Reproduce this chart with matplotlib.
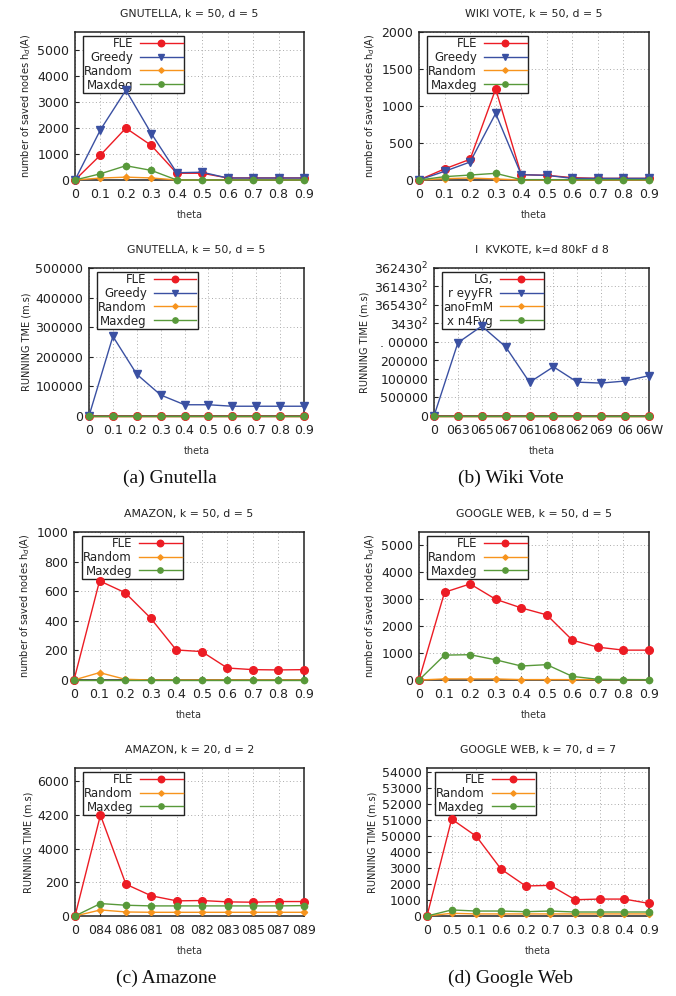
import numpy as np
import matplotlib
matplotlib.use("Agg")
import matplotlib.pyplot as plt

# theta values shared by every panel
theta = [0, 0.1, 0.2, 0.3, 0.4, 0.5, 0.6, 0.7, 0.8, 0.9]
theta_labels = ['0', '0.1', '0.2', '0.3', '0.4', '0.5', '0.6', '0.7', '0.8', '0.9']

# (a) Gnutella - saved nodes
gnu_fle = [0, 960, 2000, 1330, 260, 260, 80, 80, 80, 80]
gnu_greedy = [0, 1935, 3460, 1790, 280, 300, 75, 75, 75, 75]
gnu_random = [0, 75, 110, 80, 0, 0, 0, 0, 0, 0]
gnu_maxdeg = [0, 240, 550, 370, 0, 0, 0, 0, 0, 0]

# (a) Gnutella - running time
gnu_t_fle = [0] * 10
gnu_t_greedy = [0, 269000, 141000, 71000, 38000, 38000, 33000, 33000, 33000, 33000]
gnu_t_random = [0] * 10
gnu_t_maxdeg = [0] * 10

# (b) Wiki Vote - saved nodes
wiki_fle = [0, 150, 280, 1230, 72, 63, 32, 22, 22, 22]
wiki_greedy = [0, 117, 243, 900, 72, 63, 22, 22, 22, 22]
wiki_random = [0, 18, 27, 14, 0, 0, 0, 0, 0, 0]
wiki_maxdeg = [0, 45, 67, 90, 5, 5, 5, 5, 5, 5]

# (b) Wiki Vote - running time (labels as printed in the source)
wiki_t_fle = [0] * 10
wiki_t_greedy = [0, 198000, 243000, 187000, 91000, 133000, 91500, 89000, 94500, 109000]
wiki_t_random = [0] * 10
wiki_t_maxdeg = [0] * 10
wiki_t_yticks = [0, 50000, 100000, 150000, 200000, 250000, 300000, 350000, 400000]
wiki_t_ylabels = ['0', '500000', '100000', '200000', '. 00000', '3430$^2$',
                  '365430$^2$', '361430$^2$', '362430$^2$']
wiki_t_xlabels = ['0', '063', '065', '067', '061', '068', '062', '069', '06', '06W']
wiki_t_legend = ['LG,', 'r eyyFR', 'anoFmM', 'x n4Fyg']

# (c) Amazon - saved nodes
ama_fle = [0, 670, 590, 418, 203, 192, 81, 70, 68, 70]
ama_random = [0, 50, 5, 0, 0, 0, 0, 0, 0, 0]
ama_maxdeg = [0] * 10

# (c) Amazon - running time
ama_t_fle = [0, 3000, 945, 600, 450, 460, 420, 410, 430, 430]
ama_t_random = [0, 180, 120, 110, 110, 110, 110, 110, 110, 110]
ama_t_maxdeg = [0, 370, 320, 300, 300, 300, 300, 300, 300, 310]
ama_t_yticks = [0, 1000, 2000, 3000, 4000]
ama_t_ylabels = ['0', '200', '4000', '4200', '6000']
ama_t_xlabels = ['0', '084', '086', '081', '08', '082', '083', '085', '087', '089']

# (d) Google Web - saved nodes
goo_fle = [0, 3260, 3570, 3000, 2680, 2420, 1480, 1220, 1110, 1110]
goo_random = [0, 40, 40, 40, 15, 15, 15, 15, 15, 15]
goo_maxdeg = [0, 925, 940, 750, 520, 570, 135, 25, 15, 10]

# (d) Google Web - running time
goo_t_fle = [0, 6070, 4990, 2940, 1880, 1920, 1020, 1060, 1060, 790]
goo_t_random = [0, 170, 130, 130, 130, 130, 130, 130, 130, 130]
goo_t_maxdeg = [0, 380, 310, 310, 270, 310, 250, 250, 250, 250]
goo_t_yticks = [0, 1000, 2000, 3000, 4000, 5000, 6000, 7000, 8000, 9000]
goo_t_ylabels = ['0', '1000', '2000', '3000', '4000', '50000', '51000',
                 '52000', '53000', '54000']
goo_t_xlabels = ['0', '0.5', '0.1', '0.6', '0.2', '0.7', '0.3', '0.8', '0.4', '0.9']

STY = {
    'FLE': dict(color='#ec1c24', marker='o', ms=5.5),
    'Greedy': dict(color='#3a50a2', marker='v', ms=5.5),
    'Random': dict(color='#f7941d', marker='D', ms=3.2),
    'Maxdeg': dict(color='#58993a', marker='o', ms=4.5),
}

W, H = 676, 996
fig = plt.figure(figsize=(W / 100, H / 100), dpi=100)


def make_ax(l, t, r, b):
    return fig.add_axes([l / W, 1 - b / H, (r - l) / W, (b - t) / H])


def panel(ax, series, title, ylabel, ylim, yticks=None, ylabels=None,
          xlabels=theta_labels, legend_labels=None):
    for name, vals in series:
        s = STY[name]
        ax.plot(theta, vals, color=s['color'], marker=s['marker'], ms=s['ms'],
                lw=1.0, clip_on=False, zorder=6, label=name)
    ax.set_xlim(0, 0.9)
    ax.set_ylim(*ylim)
    ax.set_xticks(theta)
    ax.set_xticklabels(xlabels)
    if yticks is not None:
        ax.set_yticks(yticks)
        if ylabels is not None:
            ax.set_yticklabels(ylabels)
    ax.grid(True, linestyle=(0, (1, 2.5)), color='#aaaaaa', lw=0.7)
    ax.tick_params(direction='in', labelsize=9, length=3, width=0.8,
                   colors='#222222', pad=4)
    ax.tick_params(axis='x', pad=6)
    for sp in ax.spines.values():
        sp.set_linewidth(1.1)
        sp.set_color('#222222')
    ax.set_title(title, fontsize=7.8, color='#222222', pad=11)
    ax.set_xlabel('theta', fontsize=7, color='#333333', labelpad=6)
    ax.set_ylabel(ylabel, fontsize=7, color='#222222', labelpad=3)
    h, lab = ax.get_legend_handles_labels()
    if legend_labels is not None:
        lab = legend_labels
    leg = ax.legend(h, lab, loc='upper left', markerfirst=False, fontsize=8.5,
                    frameon=True, fancybox=False, framealpha=1,
                    borderpad=0.1, labelspacing=0.08, handlelength=3.6,
                    handletextpad=0.6, markerscale=0.85, borderaxespad=0.3,
                    bbox_to_anchor=(0.02, 1.0))
    leg.set_zorder(4)
    leg.get_frame().set_edgecolor('#222222')
    leg.get_frame().set_linewidth(1.0)
    for t in leg.get_texts():
        t.set_color('#222222')


saved = 'number of saved nodes h$_d$(A)'
run = 'RUNNING TIME (m.s)'

ax = make_ax(75, 32, 304, 180)
panel(ax, [('FLE', gnu_fle), ('Greedy', gnu_greedy), ('Random', gnu_random),
           ('Maxdeg', gnu_maxdeg)], 'GNUTELLA, k = 50, d = 5', saved,
      (0, 5700), [0, 1000, 2000, 3000, 4000, 5000])

ax = make_ax(419, 32, 649, 180)
panel(ax, [('FLE', wiki_fle), ('Greedy', wiki_greedy), ('Random', wiki_random),
           ('Maxdeg', wiki_maxdeg)], 'WIKI VOTE, k = 50, d = 5', saved,
      (0, 2000), [0, 500, 1000, 1500, 2000])

ax = make_ax(89, 268, 304, 416)
panel(ax, [('FLE', gnu_t_fle), ('Greedy', gnu_t_greedy), ('Random', gnu_t_random),
           ('Maxdeg', gnu_t_maxdeg)], 'GNUTELLA, k = 50, d = 5',
      'RUNNING TME (m.s)', (0, 500000),
      [0, 100000, 200000, 300000, 400000, 500000],
      ['0', '100000', '200000', '300000', '400000', '500000'])

ax = make_ax(434, 268, 649, 416)
panel(ax, [('FLE', wiki_t_fle), ('Greedy', wiki_t_greedy), ('Random', wiki_t_random),
           ('Maxdeg', wiki_t_maxdeg)], 'I  KVKOTE, k=d 80kF d 8', run,
      (0, 400000), wiki_t_yticks, wiki_t_ylabels, wiki_t_xlabels, wiki_t_legend)

ax = make_ax(74, 532, 304, 680)
panel(ax, [('FLE', ama_fle), ('Random', ama_random), ('Maxdeg', ama_maxdeg)],
      'AMAZON, k = 50, d = 5', saved, (0, 1000), [0, 200, 400, 600, 800, 1000])

ax = make_ax(419, 532, 649, 680)
panel(ax, [('FLE', goo_fle), ('Random', goo_random), ('Maxdeg', goo_maxdeg)],
      'GOOGLE WEB, k = 50, d = 5', saved, (0, 5500),
      [0, 1000, 2000, 3000, 4000, 5000])

ax = make_ax(75, 768, 304, 916)
panel(ax, [('FLE', ama_t_fle), ('Random', ama_t_random), ('Maxdeg', ama_t_maxdeg)],
      'AMAZON, k = 20, d = 2', run, (0, 4400), ama_t_yticks, ama_t_ylabels,
      ama_t_xlabels)

ax = make_ax(427, 768, 649, 916)
panel(ax, [('FLE', goo_t_fle), ('Random', goo_t_random), ('Maxdeg', goo_t_maxdeg)],
      'GOOGLE WEB, k = 70, d = 7', run, (0, 9270), goo_t_yticks, goo_t_ylabels,
      goo_t_xlabels)

cap = dict(fontsize=14, family='Liberation Serif', ha='center', va='center',
           color='#111111')
fig.text(170 / W, 1 - 478 / H, '(a) Gnutella', **cap)
fig.text(511 / W, 1 - 478 / H, '(b) Wiki Vote', **cap)
fig.text(166 / W, 1 - 978 / H, '(c) Amazone', **cap)
fig.text(510 / W, 1 - 978 / H, '(d) Google Web', **cap)

fig.savefig('out.png', dpi=100)
